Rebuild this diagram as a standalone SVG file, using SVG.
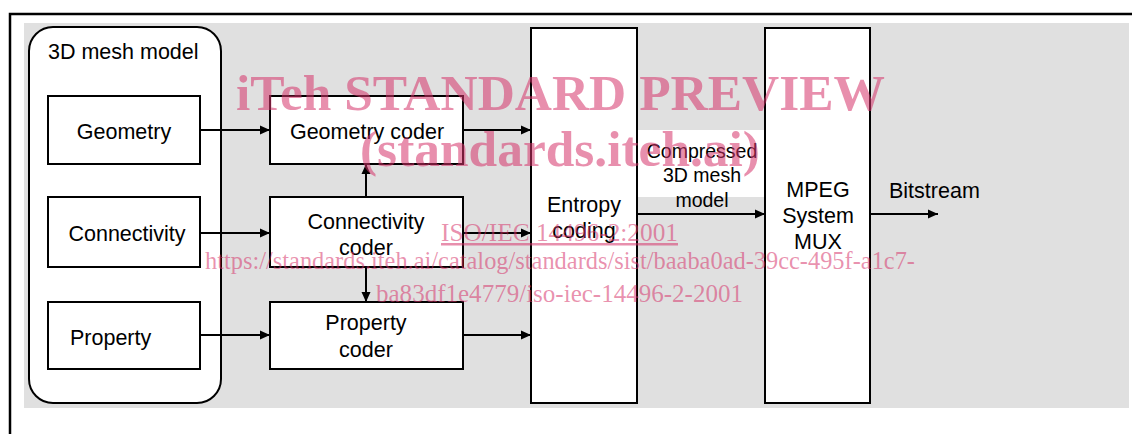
<svg xmlns="http://www.w3.org/2000/svg" width="1132" height="434" viewBox="0 0 1132 434">
<defs>
<marker id="ah" markerWidth="10" markerHeight="10" refX="10" refY="5" orient="auto" markerUnits="userSpaceOnUse">
<path d="M0,0.5 L10,5 L0,9.5 z" fill="#000"/>
</marker>
<style>
.box{fill:#fff;stroke:#000;stroke-width:2}
.t{font-family:"Liberation Sans",Arial,sans-serif;font-size:21.5px;fill:#000}
.ts{font-family:"Liberation Sans",Arial,sans-serif;font-size:19.5px;fill:#000}
.c{stroke:#000;stroke-width:2;fill:none;marker-end:url(#ah)}
.wm{font-family:"Liberation Serif","Times New Roman",serif;fill:#d6336a;fill-opacity:0.55}
</style>
</defs>
<rect x="0" y="0" width="1132" height="434" fill="#fff"/>
<path d="M10,434 V14 H1132" fill="none" stroke="#000" stroke-width="2.5"/>
<rect x="24" y="23" width="1105" height="385" fill="#e0e0e0"/>

<g id="mesh-model">
<rect x="29" y="27" width="192" height="376" rx="24" ry="24" class="box"/>
<text x="48" y="59" class="t">3D mesh model</text>
</g>
<g id="geometry">
<rect x="48" y="96" width="152" height="68" class="box"/>
<text x="124" y="139" class="t" text-anchor="middle">Geometry</text>
</g>
<g id="connectivity">
<rect x="48" y="197" width="152" height="70" class="box"/>
<text x="127" y="241" class="t" text-anchor="middle">Connectivity</text>
</g>
<g id="property">
<rect x="48" y="302" width="152" height="67" class="box"/>
<text x="70" y="345" class="t">Property</text>
</g>
<g id="geometry-coder">
<rect x="270" y="96" width="193" height="68" class="box"/>
<text x="367" y="139" class="t" text-anchor="middle">Geometry coder</text>
</g>
<g id="connectivity-coder">
<rect x="270" y="197" width="193" height="70" class="box"/>
<text x="366" y="229" class="t" text-anchor="middle">Connectivity</text>
<text x="366" y="255" class="t" text-anchor="middle">coder</text>
</g>
<g id="property-coder">
<rect x="270" y="302" width="193" height="67" class="box"/>
<text x="366" y="330" class="t" text-anchor="middle">Property</text>
<text x="366" y="357" class="t" text-anchor="middle">coder</text>
</g>
<g id="entropy-coding">
<rect x="531" y="28" width="106" height="375" class="box"/>
<text x="584" y="212" class="t" text-anchor="middle">Entropy</text>
<text x="584" y="238" class="t" text-anchor="middle">coding</text>
</g>
<g id="mpeg-mux">
<rect x="765" y="28" width="105" height="375" class="box"/>
<text x="818" y="197" class="t" text-anchor="middle">MPEG</text>
<text x="818" y="223" class="t" text-anchor="middle">System</text>
<text x="818" y="249" class="t" text-anchor="middle">MUX</text>
</g>

<g id="connectors">
<path d="M200,130 H270" class="c"/>
<path d="M200,233 H270" class="c"/>
<path d="M200,335 H270" class="c"/>
<path d="M463,130 H531" class="c"/>
<path d="M463,233 H531" class="c"/>
<path d="M463,335 H531" class="c"/>
<path d="M366,197 V164" class="c"/>
<path d="M366,267 V302" class="c"/>
<path d="M637,214 H765" class="c"/>
<path d="M870,214 H938" class="c"/>
<g id="compressed-label">
<rect x="638" y="130" width="126" height="67" fill="#fff"/>
<text x="702" y="158" class="ts" text-anchor="middle">Compressed</text>
<text x="702" y="182" class="ts" text-anchor="middle">3D mesh</text>
<text x="702" y="207" class="ts" text-anchor="middle">model</text>
</g>
<text x="889" y="198" class="t">Bitstream</text>
</g>

<g id="watermark">
<text x="236" y="110" class="wm" font-size="51" font-weight="bold" textLength="649" lengthAdjust="spacingAndGlyphs">iTeh STANDARD PREVIEW</text>
<text x="360" y="166" class="wm" font-size="51" font-weight="bold" textLength="400" lengthAdjust="spacingAndGlyphs">(standards.iteh.ai)</text>
<text x="441" y="241" class="wm" font-size="25" text-decoration="underline" textLength="237" lengthAdjust="spacingAndGlyphs">ISO/IEC 14496-2:2001</text>
<text x="205" y="269" class="wm" font-size="25" textLength="710" lengthAdjust="spacingAndGlyphs">https://standards.iteh.ai/catalog/standards/sist/baaba0ad-39cc-495f-a1c7-</text>
<text x="376" y="302" class="wm" font-size="25" textLength="367" lengthAdjust="spacingAndGlyphs">ba83df1e4779/iso-iec-14496-2-2001</text>
</g>
</svg>
